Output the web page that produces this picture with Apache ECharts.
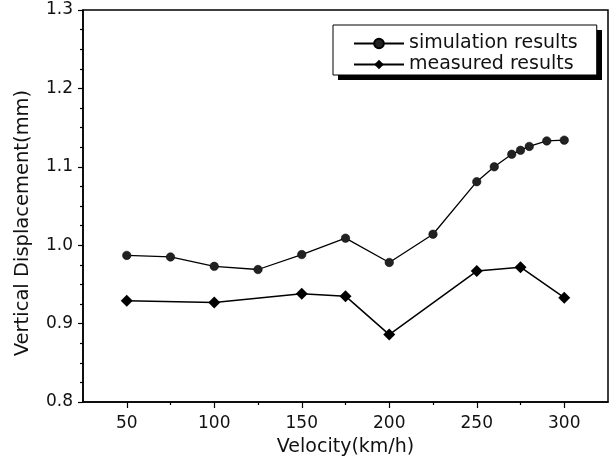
<!DOCTYPE html>
<html>
<head>
<meta charset="utf-8">
<script src="https://cdn.jsdelivr.net/npm/echarts@6/dist/echarts.min.js"></script>
<style>html,body{margin:0;padding:0;background:#fff}#c{width:614px;height:463px}</style>
</head>
<body>
<div id="c"></div>
<script>
var simVelocity = [50, 75, 100, 125, 150, 175, 200, 225, 250, 260, 270, 275, 280, 290, 300];
var simValues = [0.987, 0.985, 0.973, 0.969, 0.988, 1.009, 0.978, 1.014, 1.081, 1.100, 1.116, 1.121, 1.126, 1.133, 1.134];
var measVelocity = [50, 100, 150, 175, 200, 250, 275, 300];
var measValues = [0.929, 0.927, 0.938, 0.935, 0.886, 0.967, 0.972, 0.933];
var xMajorTicks = [50, 100, 150, 200, 250, 300];
var xMinorTicks = [75, 125, 175, 225, 275];
var seriesNames = ['simulation results', 'measured results'];

function pairs(xs, ys) { return xs.map(function (x, i) { return [x, ys[i]]; }); }

var FONT = 'DejaVu Sans';
var chart = echarts.init(document.getElementById('c'), null, { renderer: 'canvas' });
chart.setOption({
  animation: false,
  backgroundColor: '#fff',
  grid: { left: 83, top: 10, right: 6, bottom: 61, show: true, borderColor: '#000', borderWidth: 1.5, backgroundColor: 'transparent' },
  graphic: [{
    type: 'rect', z: 1, silent: true,
    shape: { x: 338, y: 30, width: 264, height: 50 },
    style: { fill: '#000' }
  }],
  legend: {
    z: 5,
    orient: 'vertical',
    left: 333, top: 25,
    padding: [9, 19, 1, 20],
    itemWidth: 50, itemHeight: 12, itemGap: 2,
    backgroundColor: '#fff', borderColor: '#000', borderWidth: 1,
    textStyle: { fontFamily: FONT, fontSize: 19, color: '#111' },
    data: seriesNames
  },
  xAxis: [{
    type: 'value', min: 25, max: 325,
    name: 'Velocity(km/h)', nameLocation: 'middle', nameGap: 36,
    nameTextStyle: { fontFamily: FONT, fontSize: 19, color: '#111' },
    axisLine: { show: true, lineStyle: { color: '#000', width: 1.5 } },
    axisTick: { show: true, length: 6, customValues: xMajorTicks, lineStyle: { color: '#000', width: 1.2 } },
    axisLabel: { customValues: xMajorTicks, margin: 13, fontFamily: FONT, fontSize: 17, color: '#111' },
    splitLine: { show: false }
  }, {
    type: 'value', min: 25, max: 325, position: 'bottom',
    axisLine: { show: false },
    axisTick: { show: true, length: 3, customValues: xMinorTicks, lineStyle: { color: '#000', width: 1.2 } },
    axisLabel: { show: false },
    splitLine: { show: false }
  }],
  yAxis: {
    type: 'value', min: 0.8, max: 1.3, interval: 0.1,
    name: 'Vertical Displacement(mm)', nameLocation: 'middle', nameGap: 50,
    nameTextStyle: { fontFamily: FONT, fontSize: 19.5, color: '#111', padding: [0, 34, 0, 0] },
    axisLine: { show: true, lineStyle: { color: '#000', width: 1.5 } },
    axisTick: { show: true, length: 5, lineStyle: { color: '#000', width: 1.2 } },
    minorTick: { show: true, splitNumber: 4, length: 3, lineStyle: { color: '#000', width: 1.2 } },
    axisLabel: { margin: 10, fontFamily: FONT, fontSize: 17, color: '#111', formatter: function (v) { return v.toFixed(1); } },
    splitLine: { show: false }
  },
  series: [{
    name: seriesNames[0], type: 'line', xAxisIndex: 0,
    data: pairs(simVelocity, simValues),
    symbol: 'circle', symbolSize: 8.5,
    lineStyle: { color: '#000', width: 1.3 },
    itemStyle: { color: '#222', borderColor: '#000', borderWidth: 0.5 }
  }, {
    name: seriesNames[1], type: 'line', xAxisIndex: 0,
    data: pairs(measVelocity, measValues),
    symbol: 'diamond', symbolSize: [12, 12],
    lineStyle: { color: '#000', width: 1.5 },
    itemStyle: { color: '#000' }
  }]
});
</script>
</body>
</html>
